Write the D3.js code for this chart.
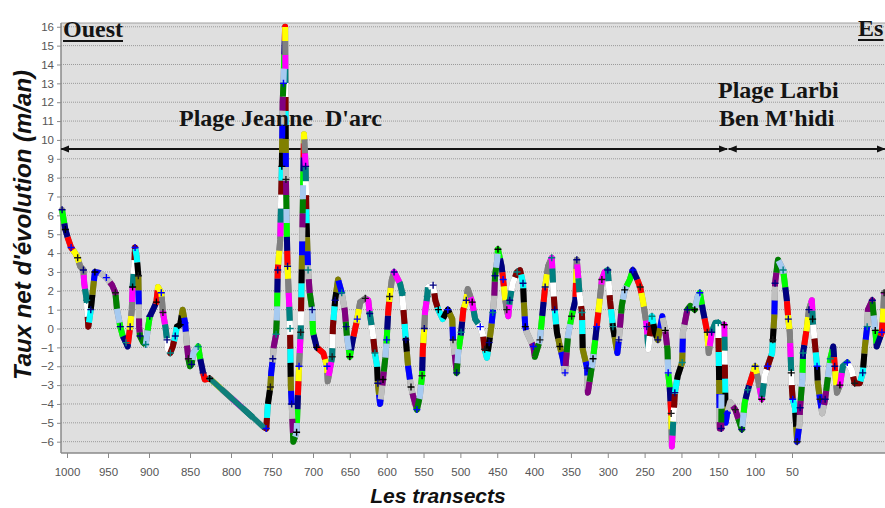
<!DOCTYPE html>
<meta charset="utf-8">
<head>
  <title>Taux net d'évolution par transect</title>
</head>

<style>
body { margin: 0; background: #fff; }
text { font-family: "Liberation Sans", Arial, sans-serif; }
.tick text { fill: #555; font-size: 11.5px; }
.lbl { font-family: "Liberation Serif", "Times New Roman", serif; font-weight: bold; font-size: 24px; fill: #141414; white-space: pre; }
.ttl { font-weight: bold; font-style: italic; fill: #111; }
</style>

<body>
  <svg width="885" height="508"></svg>

  <script src="https://d3js.org/d3.v7.min.js"></script>
  <script>
// transect number (Ouest -> Est) and net rate of change (m/an)
var transects = [1006,1005,1002,999,995,990,987,984,980,979,976,974,971,968,966,960,952,945,941,939,
  935,932,928,926,923,921,920,918,917,915,913,912,911,907,904,901,899,895,891,889,
  885,884,883,880,878,877,874,871,868,866,862,859,856,854,852,850,848,846,840,838,
  834,832,826,761,757,755,752,751,749,748,745,744,743,740,738,737,736,734,733,732,
  731,729,728,727,726,724,720,718,717,716,715,711,709,708,706,704,701,700,695,686,
  681,680,674,673,670,666,661,657,655,654,650,646,640,636,629,625,623,619,616,613,
  612,609,605,602,600,598,596,593,590,582,579,577,574,571,567,564,559,555,552,551,
  549,548,545,544,537,534,530,524,517,511,510,507,505,503,499,496,492,490,484,480,
  473,469,467,464,461,458,456,454,453,450,449,444,442,439,437,435,433,429,423,419,
  415,414,412,410,401,399,392,389,385,381,376,374,372,369,365,361,358,354,349,344,
  342,338,335,334,328,327,320,317,315,311,308,304,300,297,293,287,285,281,277,270,
  266,260,256,252,247,245,240,236,232,226,222,219,218,216,214,213,209,205,199,198,
  192,188,182,178,175,171,165,163,159,154,150,148,146,145,142,140,138,134,127,121,
  118,114,110,104,100,96,91,87,83,77,76,74,73,69,62,57,55,53,51,50,
  49,46,43,40,39,36,35,30,27,23,22,19,16,15,12,9,5,1,-2,-6,
  -8,-11,-15,-19,-25,-31,-35,-42,-46,-49,-52,-53,-59,-60,-63,-65,-72,-74,-75];

var rates = [6.3,6.0,5.25,4.8,4.3,4.0,3.75,3.3,3.1,2.4,1.5,0.1,1.0,2.2,3.0,2.95,2.7,2.3,1.9,1.0,
  0.1,-0.4,-0.75,-0.95,0.1,1.0,2.2,3.3,4.3,3.8,2.8,0.1,-0.4,-0.75,-0.85,0.1,0.65,1.0,1.4,2.2,
  1.9,1.4,0.85,0.1,-0.6,-1.1,-1.3,-0.95,-0.4,0.1,0.2,1.0,0.3,-0.75,-1.6,-2.0,-1.9,-1.3,-0.95,-1.5,
  -2.35,-2.7,-2.65,-5.2,-5.3,-4.0,-3.1,-2.35,-1.6,-1.0,-0.3,0.65,3.1,4.7,8.6,12.0,13.0,16.0,7.9,5.25,
  3.3,1.2,0.0,-3.1,-4.0,-6.0,-5.5,-3.1,-2.0,-1.1,-0.2,10.3,8.6,5.8,3.1,1.9,1.0,-0.2,-1.0,-1.3,
  -2.0,-2.8,-1.5,0.1,1.5,2.6,1.9,1.0,0.1,-0.4,-1.5,-0.6,0.5,1.4,1.6,1.5,0.8,-0.2,-1.3,-2.0,
  -2.9,-4.0,-2.7,-1.6,-0.6,0.85,1.7,2.6,3.0,2.4,1.9,0.85,-0.6,-2.0,-3.1,-3.6,-4.3,-3.6,-2.5,-1.1,
  0.0,0.85,1.7,2.2,2.3,1.5,1.0,0.5,1.0,0.5,-0.6,-1.6,-2.35,-1.3,-0.2,1.0,1.5,2.1,1.4,0.5,
  0.1,-0.4,-1.1,-1.55,-0.75,0.1,0.85,1.7,2.8,3.65,4.2,3.3,2.6,1.5,1.0,0.65,1.5,2.4,3.0,3.1,
  2.4,1.5,0.1,-0.2,-0.95,-1.5,-0.6,0.65,2.2,3.3,3.75,2.2,1.0,-0.2,-0.95,-1.6,-2.35,-0.4,0.65,1.5,
  3.65,1.7,0.85,-1.1,-2.1,-3.4,-1.6,-0.6,0.1,1.5,2.6,3.0,3.1,1.5,0.1,-1.3,-0.6,1.2,2.05,2.6,
  3.1,2.6,2.2,1.4,0.1,-1.1,0.65,-0.2,-0.6,0.65,-0.1,-1.1,-2.35,-3.1,-4.5,-6.25,-3.4,-2.5,-1.8,-0.2,
  1.0,1.2,1.0,1.7,1.9,1.0,-0.2,-1.3,-0.2,0.3,0.3,-5.3,-5.3,0.2,0.2,-5.0,-4.5,-3.9,-4.3,-5.0,
  -5.35,-3.9,-3.25,-2.5,-2.0,-2.7,-3.75,-2.5,-2.0,-1.3,-0.6,0.65,2.4,3.65,3.1,1.5,0.5,-0.2,-2.35,-3.25,
  -3.75,-4.2,-6.0,-5.1,-4.2,-2.7,-1.3,0.0,1.0,1.5,0.5,-0.75,-2.0,-2.9,-3.75,-4.5,-3.75,-2.5,-1.6,-0.95,
  -2.0,-3.4,-3.0,-2.0,-1.8,-2.2,-2.9,-2.9,-2.35,-0.95,0.1,1.0,1.5,1.0,-0.1,-0.95,-0.2,1.0,1.9];

var xTicks = [1000,950,900,850,800,750,700,650,600,550,500,450,400,350,300,250,200,150,100,50];
var yTicks = d3.range(-6, 17);

// colours used by the transect plot (cycled along the line)
var palette = ["#00ff00","#000080","#ff0000","#ffff00","#808080","#ff00ff","#008080","#ffffff",
  "#800000","#00ffff","#000000","#808000","#0000ff","#c0c0c0","#800080","#008000","#a6caf0"];
var markerColors = ["#000080","#000000","#0000ff","#1a1a1a","#000080","#008080"];

var plotL = 61, plotR = 892, plotT = 23, plotB = 453;

// the axis in the source is not evenly spaced: piecewise scale
var x = d3.scaleLinear().domain([1000, 700, 50]).range([67, 313, 792]);
var y = d3.scaleLinear().domain([-6.6, 16.2]).range([plotB, plotT]);

var svg = d3.select('svg');

svg.append('rect')
  .attr('x', plotL).attr('y', plotT)
  .attr('width', plotR - plotL).attr('height', plotB - plotT)
  .attr('fill', '#dfdfdf');

// dotted grid
svg.append('g')
  .selectAll('line')
  .data(yTicks)
  .enter()
  .append('line')
  .attr('x1', plotL).attr('x2', plotR)
  .attr('y1', function(d) { return y(d); })
  .attr('y2', function(d) { return y(d); })
  .attr('stroke', '#9a9a9a')
  .attr('stroke-dasharray', '1,1');

svg.append('line')
  .attr('x1', plotL).attr('x2', plotR).attr('y1', plotT).attr('y2', plotT)
  .attr('stroke', '#a0a0a0');

var yAxis = svg.append('g')
  .attr('transform', 'translate(' + plotL + ',0)')
  .call(d3.axisLeft(y).tickValues(yTicks).tickSize(4).tickPadding(3).tickFormat(d3.format('d')));

var xAxis = svg.append('g')
  .attr('transform', 'translate(0,' + plotB + ')')
  .call(d3.axisBottom(x).tickValues(xTicks).tickSize(5).tickPadding(10).tickFormat(d3.format('d')));

[yAxis, xAxis].forEach(function(a) {
  a.selectAll('path, line').attr('stroke', '#8a8a8a');
  a.select('.domain').attr('stroke-width', 1.5);
});
xAxis.select('.domain').attr('d', 'M' + plotL + ',0H' + plotR);
yAxis.select('.domain').attr('d', 'M0,' + plotT + 'V' + plotB);

// section arrows
var defs = svg.append('defs');
defs.append('marker')
  .attr('id', 'arr')
  .attr('viewBox', '0 -5 10 10')
  .attr('refX', 9).attr('refY', 0)
  .attr('markerWidth', 4.5).attr('markerHeight', 4.5)
  .attr('orient', 'auto-start-reverse')
  .append('path')
  .attr('d', 'M0,-4L10,0L0,4Z')
  .attr('fill', '#111');

var arrowY = 149;
[[1007, 138], [136, -76]].forEach(function(r) {
  svg.append('line')
    .attr('x1', x(r[0])).attr('x2', x(r[1]))
    .attr('y1', arrowY).attr('y2', arrowY)
    .attr('stroke', '#111')
    .attr('stroke-width', 2)
    .attr('marker-start', 'url(#arr)')
    .attr('marker-end', 'url(#arr)');
});

// the multicolour transect line
var pts = d3.zip(transects, rates);
var line = d3.line()
  .x(function(d) { return x(d[0]); })
  .y(function(d) { return y(d[1]); });
var pathD = line(pts);
var plot = svg.append('g');

plot.append('path')
  .attr('d', pathD)
  .attr('fill', 'none')
  .attr('stroke', '#808080')
  .attr('stroke-width', 6)
  .attr('stroke-linejoin', 'round')
  .attr('stroke-linecap', 'round');

var L = 14;
palette.forEach(function(c, i) {
  plot.append('path')
    .attr('d', pathD)
    .attr('fill', 'none')
    .attr('stroke', c)
    .attr('stroke-width', 6)
    .attr('stroke-linejoin', 'round')
    .attr('stroke-dasharray', L + ' ' + (palette.length - 1) * L)
    .attr('stroke-dashoffset', -i * L);
});

// long straight gaps are drawn in a single teal stroke
d3.pairs(pts).filter(function(p) { return Math.abs(x(p[1][0]) - x(p[0][0])) > 25; })
  .forEach(function(p) {
    plot.append('path')
      .attr('d', line(p))
      .attr('stroke', '#0f7f7a')
      .attr('stroke-width', 5.5)
      .attr('stroke-linecap', 'round');
  });

// + markers
plot.selectAll('.mk')
  .data(pts.filter(function(d, i) { return i % 2 === 0; }))
  .enter()
  .append('path')
  .attr('class', 'mk')
  .attr('transform', function(d) { return 'translate(' + [x(d[0]), y(d[1])] + ')'; })
  .attr('d', 'M-3.5,0H3.5M0,-3.5V3.5')
  .attr('stroke', function(d, i) { return markerColors[i % markerColors.length]; })
  .attr('stroke-width', 1.4);

// annotations
function lbl(tx, px, py, underline) {
  var t = svg.append('text').attr('class', 'lbl').attr('x', px).attr('y', py).text(tx);
  if (underline) {
    var w = t.node().getComputedTextLength();
    svg.append('line').attr('x1', px).attr('x2', px + w)
      .attr('y1', py + 4).attr('y2', py + 4)
      .attr('stroke', '#141414').attr('stroke-width', 2);
  }
}
lbl('Ouest', 63, 37, true);
lbl('Es', 858, 36, true);
lbl('Plage Jeanne  D\'arc', 179, 126, false);
lbl('Plage Larbi', 718, 98, false);
lbl('Ben M\'hidi', 719, 126, false);

svg.append('text')
  .attr('class', 'ttl')
  .attr('transform', 'translate(31,225) rotate(-90)')
  .attr('text-anchor', 'middle')
  .style('font-size', '24px')
  .text('Taux net d\'évolution (m/an)');

svg.append('text')
  .attr('class', 'ttl')
  .attr('x', 438).attr('y', 503)
  .attr('text-anchor', 'middle')
  .style('font-size', '21px')
  .text('Les transects');
  </script>
</body>
</html>
